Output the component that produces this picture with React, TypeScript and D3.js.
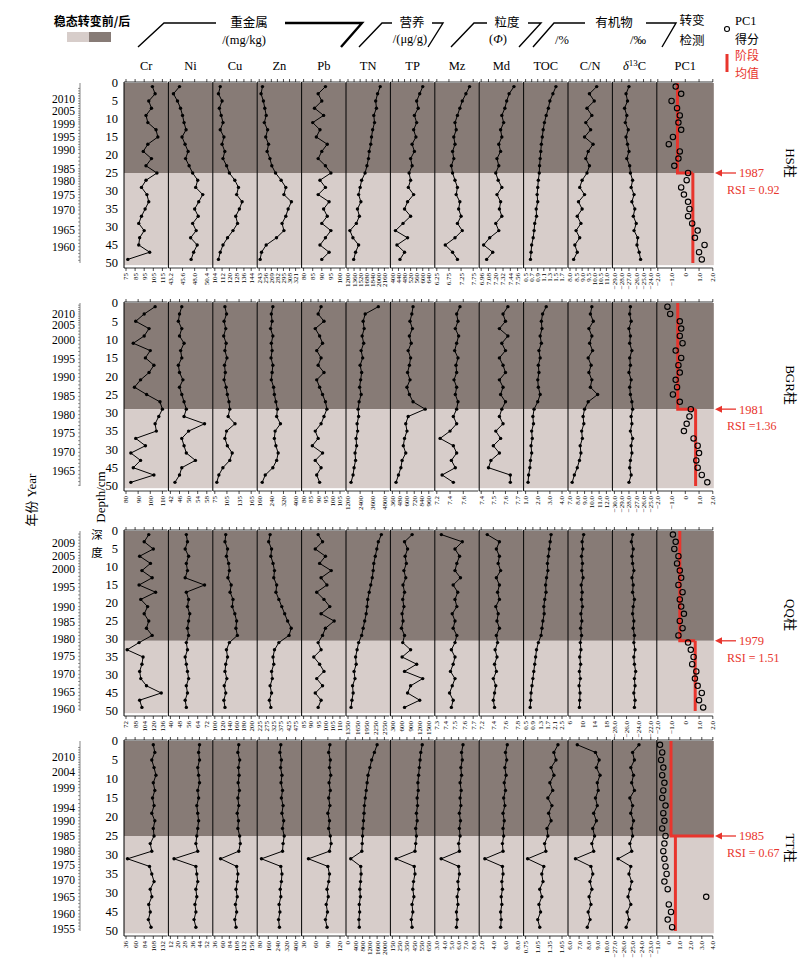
import React from 'react';
import * as d3 from 'd3';

const SERIF = '"Liberation Serif", "DejaVu Serif", serif';
const CJK = '"Noto Sans CJK SC", sans-serif';
const DARK = '#877b76';
const LIGHT = '#d7cdca';
const RED = '#e8352d';

const columns = ['Cr', 'Ni', 'Cu', 'Zn', 'Pb', 'TN', 'TP', 'Mz', 'Md', 'TOC', 'C/N', 'd13C', 'PC1'];
const depthTickAt = [0, 5, 10, 15, 20, 25, 30, 35, 40, 45, 50];
const depthTickText = ['0', '5', '10', '15', '20', '25', '30', '35', '30', '45', '50'];

// ---------- HS ----------
const hsDepth = [1, 3, 5, 7, 9, 11, 13, 15, 17, 19, 21, 23, 25, 27, 29, 31, 33, 35, 37, 39, 41, 43, 45, 47, 49];
const hsCr = [104, 107, 100, 103, 97, 99, 108, 110, 99, 94, 103, 97, 109, 97, 92, 98, 100, 96, 92, 89, 95, 90, 89, 101, 77];
const hsNi = [45.0, 43.8, 44.6, 45.2, 45.6, 45.9, 46.3, 45.5, 46.1, 46.7, 46.2, 46.9, 47.6, 48.6, 48.2, 49.6, 48.8, 48.0, 48.7, 47.6, 48.3, 47.2, 48.5, 47.8, 47.3];
const hsCu = [110, 108, 112, 109, 111, 113, 110, 114, 112, 115, 113, 117, 120, 126, 130, 128, 134, 131, 127, 129, 124, 118, 113, 110, 108];
const hsZn = [250, 247, 252, 255, 258, 254, 261, 257, 263, 260, 266, 270, 278, 290, 300, 296, 312, 305, 300, 292, 296, 280, 258, 248, 245];
const hsPb = [92, 88, 90, 86, 91, 85, 89, 87, 93, 90, 88, 92, 95, 89, 92, 88, 94, 91, 93, 90, 95, 92, 89, 94, 90];
const hsTN = [2050, 1980, 1930, 1950, 1880, 1900, 1850, 1820, 1800, 1760, 1740, 1700, 1650, 1560, 1520, 1480, 1540, 1450, 1500, 1420, 1250, 1330, 1480, 1400, 1350];
const hsTP = [600, 580, 560, 570, 545, 560, 540, 555, 530, 545, 520, 530, 510, 520, 505, 540, 500, 480, 520, 470, 420, 500, 430, 480, 450];
const hsMz = [7.6, 7.45, 7.3, 7.2, 7.1, 7.0, 7.05, 6.95, 7.0, 6.9, 6.95, 6.85, 6.9, 7.0, 7.1, 7.05, 7.2, 7.15, 7.25, 7.1, 7.3, 7.0, 6.6, 6.9, 7.1];
const hsMd = [7.5, 7.42, 7.38, 7.35, 7.3, 7.33, 7.28, 7.3, 7.25, 7.28, 7.22, 7.25, 7.2, 7.24, 7.3, 7.22, 7.28, 7.26, 7.3, 7.2, 7.25, 7.1, 7.0, 7.15, 7.05];
const hsTOC = [1.5, 1.4, 1.3, 1.25, 1.18, 1.12, 1.08, 1.05, 1.02, 1.0, 0.98, 0.96, 0.95, 0.92, 0.9, 0.88, 0.9, 0.85, 0.86, 0.8, 0.78, 0.75, 0.7, 0.68, 0.66];
const hsCN = [10.2, 9.6, 10.0, 9.4, 9.8, 9.3, 9.7, 9.2, 9.9, 9.5, 9.3, 9.6, 9.4, 9.0, 8.8, 9.2, 8.7, 9.0, 8.6, 8.9, 8.5, 8.8, 8.4, 8.6, 8.3];
const hsD13C = [-27.0, -27.4, -27.2, -27.6, -27.3, -27.5, -27.1, -27.4, -27.2, -27.0, -27.3, -26.9, -26.8, -26.5, -26.7, -26.3, -26.6, -26.2, -26.4, -26.0, -26.3, -25.8, -25.9, -25.6, -25.4];
const hsPC1 = [-0.7, -0.3, -1.0, -0.6, -0.4, -0.5, -0.3, -0.9, -1.2, -0.4, -0.5, -0.8, 0.2, 0.1, -0.3, -0.1, 0.2, 0.3, 0.2, 0.5, 0.9, 0.7, 1.4, 1.0, 1.2];
const hsStage = [-0.57, 0.55];
const hsTicks = [
  ['75', '85', '95', '105', '115'],
  ['43.2', '45.6', '48.0', '50.4'],
  ['104', '112', '120', '128', '136', '144'],
  ['243', '256', '269', '282', '295', '308', '321'],
  ['80', '85', '90', '95', '100'],
  ['1200', '1360', '1520', '1680', '1840', '2000', '2160'],
  ['400', '440', '480', '520', '560', '600', '640'],
  ['6.25', '6.75', '7.25', '7.75'],
  ['6.96', '7.08', '7.20', '7.32', '7.44', '7.56'],
  ['0.5', '0.7', '0.9', '1.1', '1.3', '1.5', '1.7'],
  ['8.0', '8.5', '9.0', '9.5', '10.0', '10.5', '11.0'],
  ['−29.0', '−28.0', '−27.0', '−26.0', '−25.0', '−24.0'],
  ['−2.0', '−1.0', '0', '1.0', '2.0'],
];
const hsYears = ['2010', '2005', '1999', '1995', '1990', '1985', '1980', '1975', '1970', '1965', '1960'];
const hsYearDepth = [4.3, 7.8, 11.4, 14.9, 18.5, 23.8, 27.3, 31, 35.3, 40.8, 45.5];

// ---------- BGR ----------
const bgrDepth = [1, 3, 5, 7, 9, 11, 13, 15, 17, 19, 21, 23, 25, 27, 29, 31, 33, 35, 37, 39, 41, 43, 45, 47, 49];
const bgrCr = [104, 95, 88, 99, 95, 86, 100, 96, 103, 99, 92, 87, 97, 108, 110, 107, 104, 105, 88, 96, 84, 92, 86, 103, 84];
const bgrNi = [47, 46, 45.5, 47, 46, 48, 46.5, 47, 45.5, 46, 47.5, 46, 47, 48, 49, 48, 57, 50, 47, 48, 49, 53, 47, 46, 44];
const bgrCu = [100, 104, 98, 102, 97, 103, 100, 105, 99, 101, 98, 103, 106, 110, 112, 108, 125, 104, 100, 106, 118, 112, 95, 85, 80];
const bgrZn = [250, 240, 245, 235, 250, 240, 245, 238, 250, 245, 240, 255, 260, 270, 280, 275, 300, 265, 260, 270, 285, 275, 250, 200, 180];
const bgrPb = [92, 90, 94, 88, 91, 93, 89, 92, 90, 94, 89, 91, 93, 95, 96, 94, 92, 88, 90, 86, 93, 88, 92, 89, 91];
const bgrTN = [4200, 2900, 2700, 2800, 2600, 2750, 2500, 2650, 2400, 2550, 2450, 2350, 2500, 2300, 2200, 2250, 2100, 2150, 2000, 2050, 1900, 1950, 1800, 1700, 1500];
const bgrTP = [700, 680, 650, 690, 640, 670, 620, 660, 640, 610, 650, 600, 640, 700, 900, 620, 580, 600, 560, 540, 580, 520, 500, 460, 420];
const bgrMz = [7.55, 7.5, 7.52, 7.48, 7.53, 7.5, 7.47, 7.52, 7.49, 7.5, 7.46, 7.5, 7.48, 7.52, 7.5, 7.45, 7.5, 7.4, 7.25, 7.45, 7.5, 7.42, 7.48, 7.28, 7.45];
const bgrMd = [7.62, 7.58, 7.6, 7.55, 7.62, 7.57, 7.6, 7.55, 7.58, 7.6, 7.55, 7.58, 7.56, 7.6, 7.57, 7.55, 7.58, 7.52, 7.56, 7.5, 7.55, 7.48, 7.46, 7.64, 7.64];
const bgrTOC = [2.7, 2.4, 2.3, 2.35, 2.2, 2.3, 2.1, 2.2, 2.05, 2.1, 2.0, 2.05, 2.2, 2.0, 1.7, 1.6, 1.65, 1.5, 1.55, 1.45, 1.5, 1.4, 1.35, 1.25, 1.2];
const bgrCN = [10.0, 9.8, 10.2, 9.6, 10.0, 9.7, 10.1, 9.5, 9.9, 9.6, 10.0, 9.8, 10.8, 9.5, 9.0, 8.8, 8.9, 8.6, 8.7, 8.4, 8.5, 8.3, 8.0, 7.6, 7.3];
const bgrD13C = [-27.8, -27.9, -27.7, -28.0, -27.8, -27.9, -27.6, -27.9, -27.8, -28.0, -27.7, -27.9, -27.8, -27.6, -27.5, -27.7, -27.6, -27.8, -27.5, -27.7, -27.6, -27.8, -27.9, -27.7, -28.0];
const bgrPC1 = [-1.3, -1.1, -0.4, -0.3, -0.4, -0.2, -0.7, -0.3, -0.5, -0.4, -0.7, -0.6, -0.9, -0.4, 0.4, 0.3, 0.1, -0.1, 0.6, 0.9, 1.0, 0.8, 0.9, 1.2, 1.6];
const bgrStage = [-0.55, 0.75];
const bgrTicks = [
  ['80', '90', '100', '110'],
  ['42', '46', '50', '54', '58'],
  ['75', '105', '135', '165'],
  ['160', '240', '320', '400'],
  ['80', '85', '90', '95', '100', '105'],
  ['1200', '2400', '3600', '4800'],
  ['360', '480', '600', '720', '840', '960'],
  ['7.2', '7.4', '7.6'],
  ['7.4', '7.5', '7.6', '7.7'],
  ['1.0', '2.0', '3.0', '4.0'],
  ['7.0', '8.0', '9.0', '10.0', '11.0', '12.0'],
  ['−30.0', '−29.0', '−28.0', '−27.0', '−26.0', '−25.0'],
  ['−2.0', '−1.0', '0', '1.0', '2.0'],
];
const bgrYears = ['2010', '2005', '2000', '1995', '1990', '1985', '1980', '1975', '1970', '1965'];
const bgrYearDepth = [3.0, 6.0, 10.2, 15.3, 20.3, 25.5, 30.5, 35.5, 40.8, 45.8];

// ---------- QQ ----------
const qqDepth = [1, 3, 5, 7, 9, 11, 13, 15, 17, 19, 21, 23, 25, 27, 29, 31, 33, 35, 37, 39, 41, 43, 45, 47, 49];
const qqCr = [112, 104, 120, 96, 115, 100, 118, 95, 124, 98, 110, 104, 112, 108, 118, 95, 74, 102, 100, 96, 98, 108, 134, 96, 100];
const qqNi = [54, 55, 53, 56, 54, 55, 53, 70, 54, 56, 55, 57, 56, 55, 56, 54, 55, 53, 54, 55, 56, 54, 55, 53, 54];
const qqCu = [130, 128, 135, 132, 138, 140, 136, 145, 142, 150, 148, 155, 160, 158, 162, 140, 132, 135, 130, 128, 133, 126, 130, 125, 128];
const qqZn = [300, 290, 310, 305, 320, 330, 325, 345, 340, 360, 380, 400, 420, 445, 430, 360, 330, 320, 325, 310, 315, 300, 310, 295, 305];
const qqPb = [95, 98, 93, 100, 96, 104, 97, 101, 94, 99, 103, 97, 106, 100, 98, 95, 97, 92, 96, 99, 94, 98, 93, 97, 95];
const qqTN = [2450, 2350, 2300, 2250, 2200, 2180, 2150, 2100, 2050, 2000, 1980, 1950, 1900, 1850, 1800, 1700, 1650, 1600, 1620, 1550, 1580, 1500, 1520, 1480, 1450];
const qqTP = [950, 700, 800, 720, 760, 680, 740, 650, 700, 640, 680, 620, 650, 600, 700, 640, 900, 620, 1100, 700, 1300, 900, 800, 1200, 700];
const qqMz = [7.35, 7.58, 7.5, 7.55, 7.52, 7.5, 7.56, 7.48, 7.53, 7.5, 7.52, 7.47, 7.5, 7.48, 7.52, 7.5, 7.46, 7.5, 7.48, 7.45, 7.5, 7.47, 7.44, 7.48, 7.46];
const qqMd = [7.3, 7.5, 7.45, 7.5, 7.48, 7.52, 7.45, 7.5, 7.47, 7.5, 7.44, 7.48, 7.46, 7.5, 7.45, 7.47, 7.43, 7.46, 7.42, 7.45, 7.4, 7.44, 7.42, 7.4, 7.42];
const qqTOC = [1.9, 1.85, 1.8, 1.75, 1.7, 1.72, 1.65, 1.6, 1.62, 1.55, 1.5, 1.52, 1.45, 1.4, 1.35, 1.2, 1.1, 1.05, 1.0, 0.95, 0.9, 0.85, 0.8, 0.78, 0.75];
const qqCN = [10.5, 10.0, 10.2, 9.8, 10.1, 9.9, 10.3, 9.7, 10.0, 9.8, 10.1, 9.6, 9.9, 9.5, 9.8, 9.4, 9.6, 9.2, 9.5, 9.1, 9.4, 9.0, 9.3, 9.2, 9.1];
const qqD13C = [-25.0, -25.2, -24.9, -25.1, -25.0, -24.8, -25.1, -24.9, -25.0, -24.7, -24.9, -25.0, -24.8, -24.9, -24.7, -24.8, -24.6, -24.8, -24.7, -24.5, -24.7, -24.6, -24.8, -24.6, -24.7];
const qqPC1 = [-0.9, -0.7, -0.8, -0.5, -0.6, -0.4, -0.3, -0.5, -0.2, -0.4, -0.3, -0.1, -0.4, -0.2, -0.5, 0.2, 0.4, 0.6, 0.5, 0.8, 0.7, 0.9, 1.2, 1.0, 1.3];
const qqStage = [-0.4, 0.72];
const qqTicks = [
  ['72', '88', '104', '120', '136'],
  ['40', '48', '56', '64', '72'],
  ['100', '120', '140', '160', '180', '200'],
  ['225', '275', '325', '375', '425', '475'],
  ['85', '90', '95', '100', '105', '110'],
  ['1350', '1650', '1950', '2250', '2550'],
  ['300', '600', '900', '1200', '1500'],
  ['7.3', '7.4', '7.5', '7.6', '7.7'],
  ['7.2', '7.4', '7.6', '7.8'],
  ['0.5', '0.9', '1.3', '1.7', '2.1', '2.5'],
  ['6', '10', '14', '18'],
  ['−28.0', '−26.0', '−24.0', '−22.0'],
  ['−2.0', '−1.0', '0', '1.0', '2.0'],
];
const qqYears = ['2009', '2005', '2000', '1995', '1990', '1985', '1980', '1975', '1970', '1965', '1960'];
const qqYearDepth = [3.4, 6.8, 10.6, 15.6, 21, 25.3, 30, 34.8, 39.8, 44.8, 49.5];

// ---------- TT ----------
const ttDepth = [1, 3, 5, 7, 9, 11, 13, 15, 17, 19, 21, 23, 25, 27, 29, 31, 33, 35, 37, 39, 41, 43, 45, 47, 49];
const ttCr = [108, 112, 104, 110, 115, 108, 112, 106, 110, 104, 112, 108, 110, 100, 104, 40, 98, 104, 110, 100, 104, 96, 100, 95, 102];
const ttNi = [44, 43, 44, 42, 43, 44, 42, 43, 41, 42, 43, 42, 41, 40, 42, 16, 40, 41, 42, 40, 41, 39, 40, 38, 40];
const ttCu = [115, 112, 118, 114, 116, 113, 117, 112, 115, 110, 114, 112, 118, 120, 115, 55, 108, 112, 110, 106, 110, 104, 108, 102, 106];
const ttZn = [270, 262, 275, 268, 280, 272, 285, 275, 290, 280, 295, 285, 300, 290, 285, 100, 270, 280, 275, 265, 270, 255, 262, 250, 258];
const ttPb = [95, 92, 96, 94, 97, 93, 96, 92, 95, 90, 94, 92, 96, 98, 94, 42, 90, 94, 92, 88, 91, 86, 89, 84, 88];
const ttTN = [1600, 1450, 1300, 1200, 1100, 1050, 1000, 950, 900, 880, 850, 820, 800, 780, 760, 150, 700, 720, 690, 650, 680, 620, 640, 600, 620];
const ttTP = [560, 540, 530, 520, 510, 500, 505, 490, 495, 480, 490, 470, 480, 470, 460, 200, 450, 460, 440, 430, 445, 420, 430, 410, 420];
const ttMz = [6.6, 6.4, 6.5, 6.3, 6.4, 6.2, 6.35, 6.2, 6.3, 6.1, 6.25, 6.1, 6.2, 6.0, 6.1, 3.6, 6.0, 6.1, 5.9, 6.0, 5.8, 5.9, 5.7, 5.8, 5.7];
const ttMd = [6.3, 6.0, 6.2, 5.9, 6.1, 5.8, 6.0, 5.7, 5.9, 5.6, 5.8, 5.6, 5.7, 5.5, 5.6, 2.6, 5.5, 5.6, 5.4, 5.5, 5.3, 5.4, 5.2, 5.3, 5.2];
const ttTOC = [1.55, 1.45, 1.5, 1.38, 1.45, 1.35, 1.42, 1.3, 1.4, 1.32, 1.38, 1.28, 1.3, 1.22, 1.25, 0.8, 1.2, 1.15, 1.18, 1.1, 1.15, 1.08, 1.12, 1.05, 1.1];
const ttCN = [6.8, 8.8, 9.2, 8.9, 9.3, 9.0, 9.1, 8.8, 9.0, 8.6, 8.9, 8.5, 8.7, 8.4, 8.6, 6.6, 8.3, 8.5, 8.2, 8.4, 8.1, 8.3, 8.0, 8.2, 7.9];
const ttD13C = [-24.3, -25.0, -24.8, -25.2, -24.9, -25.1, -24.8, -25.3, -25.0, -25.2, -24.9, -25.1, -25.0, -25.3, -25.1, -26.6, -25.2, -25.4, -25.1, -25.3, -25.5, -25.2, -25.6, -25.4, -25.7];
const ttPC1 = [-0.8, -0.6, -0.7, -0.5, -0.6, -0.4, -0.5, -0.6, -0.3, -0.5, -0.4, -0.6, -0.3, -0.4, -0.5, -0.4, -0.3, -0.2, -0.4, -0.1, 3.4, 0.0, 0.2, -0.1, 0.3];
const ttStage = [0.2, 0.6];
const ttTicks = [
  ['36', '60', '84', '108', '132'],
  ['12', '20', '28', '36', '44', '52'],
  ['36', '60', '84', '108', '132', '156'],
  ['80', '160', '240', '320', '400'],
  ['30', '60', '90', '120'],
  ['0', '400', '800', '1200', '1600', '2000'],
  ['150', '250', '350', '450', '550', '650'],
  ['3.0', '4.0', '5.0', '6.0', '7.0', '8.0'],
  ['2.0', '4.0', '6.0', '8.0'],
  ['0.75', '1.05', '1.35', '1.65'],
  ['6.0', '7.0', '8.0', '9.0', '10.0'],
  ['−27.0', '−26.0', '−25.0', '−24.0', '−23.0'],
  ['−1.0', '0', '1.0', '2.0', '3.0', '4.0'],
];
const ttYears = ['2010', '2004', '1999', '1994', '1990', '1985', '1980', '1975', '1970', '1965', '1960', '1955'];
const ttYearDepth = [4.3, 8.2, 12.3, 17.5, 21, 25, 29, 32.5, 36.5, 41, 45.5, 49.5];

const cores = [
  {
    name: 'HS', top: 83, bottom: 263, shift: 25, year: '1987', rsi: 'RSI = 0.92', labelY: 163, redToEdge: false,
    depth: hsDepth, series: [hsCr, hsNi, hsCu, hsZn, hsPb, hsTN, hsTP, hsMz, hsMd, hsTOC, hsCN, hsD13C, hsPC1],
    stage: hsStage, ticks: hsTicks, years: hsYears, yearDepth: hsYearDepth, domains: {} as Record<number, number[]>,
  },
  {
    name: 'BGR', top: 303, bottom: 486, shift: 29, year: '1981', rsi: 'RSI =1.36', labelY: 385, redToEdge: false,
    depth: bgrDepth, series: [bgrCr, bgrNi, bgrCu, bgrZn, bgrPb, bgrTN, bgrTP, bgrMz, bgrMd, bgrTOC, bgrCN, bgrD13C, bgrPC1],
    stage: bgrStage, ticks: bgrTicks, years: bgrYears, yearDepth: bgrYearDepth, domains: { 7: [7.2, 7.75] } as Record<number, number[]>,
  },
  {
    name: 'QQ', top: 531, bottom: 711, shift: 30.5, year: '1979', rsi: 'RSI = 1.51', labelY: 615, redToEdge: false,
    depth: qqDepth, series: [qqCr, qqNi, qqCu, qqZn, qqPb, qqTN, qqTP, qqMz, qqMd, qqTOC, qqCN, qqD13C, qqPC1],
    stage: qqStage, ticks: qqTicks, years: qqYears, yearDepth: qqYearDepth, domains: {} as Record<number, number[]>,
  },
  {
    name: 'TT', top: 741, bottom: 931, shift: 25, year: '1985', rsi: 'RSI = 0.67', labelY: 848, redToEdge: true,
    depth: ttDepth, series: [ttCr, ttNi, ttCu, ttZn, ttPb, ttTN, ttTP, ttMz, ttMd, ttTOC, ttCN, ttD13C, ttPC1],
    stage: ttStage, ticks: ttTicks, years: ttYears, yearDepth: ttYearDepth, domains: {} as Record<number, number[]>,
  },
];

const PX0 = 124;
const PW = 44.4;
const LAST_W = 57;
const panelX = (i: number) => PX0 + i * PW;
const panelW = (i: number) => (i === 12 ? LAST_W : PW);
const num = (s: string) => +s.replace('−', '-');

function xScaleFor(core, i) {
  const x = panelX(i);
  const w = panelW(i);
  const t = core.ticks[i].map(num);
  const dom = core.domains[i] || [t[0], t[t.length - 1]];
  const range = i === 12 ? [x + 1, x + w - 1] : [x + 2, x + w - 6];
  return d3.scaleLinear().domain(dom).range(range);
}

function Core({ core }) {
  const y = d3.scaleLinear().domain([0, 50]).range([core.top, core.bottom]);
  const axisY = core.bottom + 5;
  const yearScale = d3.scaleLinear().domain(core.years.map(Number)).range(core.yearDepth);
  const y0 = +core.years[0];
  const yN = +core.years[core.years.length - 1];
  const minor = d3.range(yN - 4, y0 + 5).map((yr) => yearScale(yr)).filter((d) => d >= 0.3 && d <= 50);

  const xp = xScaleFor(core, 12);
  const yS = y(core.shift);
  const [upMean, loMean] = core.stage;
  const stepPath = `M${xp(upMean)},${y(0)}V${yS}H${core.redToEdge ? panelX(12) + LAST_W : xp(loMean)}`;
  const lowerPath = `M${xp(loMean)},${yS}V${y(50)}`;

  return (
    <g>
      {/* year axis */}
      <line x1={80} x2={80} y1={y(0)} y2={y(50)} stroke="#333" strokeWidth={0.6} />
      {minor.map((d, k) => (
        <line key={k} x1={78} x2={80} y1={y(d)} y2={y(d)} stroke="#333" strokeWidth={0.5} />
      ))}
      {core.years.map((yr, k) => (
        <text key={yr} x={75} y={y(core.yearDepth[k])} dy="0.35em" textAnchor="end" fontFamily={SERIF} fontSize={11.5}>
          {yr}
        </text>
      ))}
      {/* depth labels */}
      {depthTickAt.map((d, k) => (
        <text key={k} x={118} y={y(d)} dy="0.35em" textAnchor="end" fontFamily={SERIF} fontSize={12.5}>
          {depthTickText[k]}
        </text>
      ))}
      {columns.map((c, i) => {
        const x = panelX(i);
        const w = panelW(i);
        const xs = xScaleFor(core, i);
        const vals = core.series[i];
        const tickVals = core.ticks[i];
        const line = d3
          .line<number>()
          .x((v) => xs(v))
          .y((_, k) => y(core.depth[k]));
        return (
          <g key={c}>
            <rect x={x} y={y(0)} width={w} height={yS - y(0)} fill={DARK} />
            <rect x={x} y={yS} width={w} height={y(50.6) - yS} fill={LIGHT} />
            <line x1={x} x2={x} y1={y(0) - 1} y2={axisY} stroke="#000" strokeWidth={1} />
            <line x1={x} x2={x + w - 1} y1={y(0) - 1} y2={y(0) - 1} stroke="#000" strokeWidth={0.8} />
            <line x1={x} x2={x + w - 1} y1={axisY} y2={axisY} stroke="#000" strokeWidth={0.8} />
            {tickVals.map((t) => (
              <g key={t}>
                <line x1={xs(num(t))} x2={xs(num(t))} y1={y(0) - 1} y2={y(0) - 4} stroke="#000" strokeWidth={0.7} />
                <line x1={xs(num(t))} x2={xs(num(t))} y1={axisY} y2={axisY + 3} stroke="#000" strokeWidth={0.7} />
                <text
                  transform={`translate(${xs(num(t))},${axisY + 5}) rotate(-90)`}
                  textAnchor="end"
                  dy="0.35em"
                  fontFamily={SERIF}
                  fontSize={7}
                >
                  {t}
                </text>
              </g>
            ))}
            {i < 12 ? (
              <g>
                <path d={line(vals) || ''} fill="none" stroke="#000" strokeWidth={1} />
                {vals.map((v, k) => (
                  <circle key={k} cx={xs(v)} cy={y(core.depth[k])} r={1.7} fill="#000" />
                ))}
              </g>
            ) : (
              <g>
                <path d={stepPath} fill="none" stroke={RED} strokeWidth={3} />
                <path d={lowerPath} fill="none" stroke={RED} strokeWidth={3} />
                {vals.map((v, k) => (
                  <circle key={k} cx={xs(v)} cy={y(core.depth[k])} r={2.7} fill="none" stroke="#000" strokeWidth={1.1} />
                ))}
              </g>
            )}
          </g>
        );
      })}
      {/* transition annotation */}
      <line x1={736} x2={721} y1={yS} y2={yS} stroke={RED} strokeWidth={1.3} />
      <path d={`M715,${yS}L722,${yS - 3.5}L722,${yS + 3.5}Z`} fill={RED} />
      <text x={739} y={yS} dy="0.35em" fill={RED} fontFamily={SERIF} fontSize={12.5}>
        {core.year}
      </text>
      <text x={727} y={yS + 17} dy="0.35em" fill={RED} fontFamily={SERIF} fontSize={12}>
        {core.rsi}
      </text>
      <text
        transform={`translate(791,${core.labelY}) rotate(90)`}
        textAnchor="middle"
        dy="0.35em"
        fontFamily={SERIF}
        fontSize={13}
      >
        {core.name}
        <tspan fontFamily={CJK}>柱</tspan>
      </text>
    </g>
  );
}

function Header() {
  const yT = 23;
  const yB = 47;
  const cx = (i: number) => panelX(i) + panelW(i) / 2;
  return (
    <g>
      <text x={92} y={22} dy="0.35em" textAnchor="middle" fontFamily={CJK} fontSize={12} fontWeight={700}>
        稳态转变前/后
      </text>
      <rect x={67} y={32} width={22} height={10} fill={LIGHT} />
      <rect x={89} y={32} width={22} height={10} fill={DARK} />
      <g fill="none" stroke="#000" strokeWidth={1.4}>
        <polyline points={`138,${yB} 164,${yT} 216,${yT}`} />
        <polyline points={`285,${yT} 362,${yT} 341,${yB}`} strokeWidth={2.4} />
        <polyline points={`359,${yB} 382,${yT} 392,${yT}`} />
        <polyline points={`432,${yT} 443,${yT} 428,${yB}`} />
        <polyline points={`451,${yB} 474,${yT} 487,${yT}`} />
        <polyline points={`528,${yT} 541,${yT} 519,${yB}`} />
        <polyline points={`533,${yB} 554,${yT} 585,${yT}`} />
        <polyline points={`646,${yT} 676,${yT} 662,${yB}`} />
      </g>
      <g fontFamily={CJK} fontSize={12.5} textAnchor="middle">
        <text x={249} y={yT} dy="0.35em">重金属</text>
        <text x={412} y={yT} dy="0.35em">营养</text>
        <text x={507} y={yT} dy="0.35em">粒度</text>
        <text x={614} y={yT} dy="0.35em">有机物</text>
        <text x={692} y={21} dy="0.35em">转变</text>
        <text x={692} y={41} dy="0.35em">检测</text>
      </g>
      <g fontFamily={SERIF} fontSize={12.5} textAnchor="middle">
        <text x={244} y={40} dy="0.35em">/(mg/kg)</text>
        <text x={410} y={39} dy="0.35em">/(μg/g)</text>
        <text x={498} y={39} dy="0.35em">(<tspan fontStyle="italic">Φ</tspan>)</text>
        <text x={562} y={40} dy="0.35em">/%</text>
        <text x={638} y={40} dy="0.35em">/‰</text>
      </g>
      {columns.map((c, i) => (
        <text key={c} x={cx(i)} y={66} dy="0.35em" textAnchor="middle" fontFamily={SERIF} fontSize={12.5}>
          {c === 'd13C' ? (
            <>
              <tspan fontStyle="italic">δ</tspan>
              <tspan dy={-4} fontSize={9}>13</tspan>
              <tspan dy={4}>C</tspan>
            </>
          ) : (
            c
          )}
        </text>
      ))}
      <circle cx={727} cy={29} r={2.5} fill="none" stroke="#000" strokeWidth={1.1} />
      <text x={735} y={21} dy="0.35em" fontFamily={SERIF} fontSize={12.5}>PC1</text>
      <text x={735} y={40} dy="0.35em" fontFamily={CJK} fontSize={12}>得分</text>
      <line x1={727} x2={727} y1={54} y2={72} stroke={RED} strokeWidth={3} />
      <text x={735} y={56} dy="0.35em" fontFamily={CJK} fontSize={12} fill={RED}>阶段</text>
      <text x={735} y={74} dy="0.35em" fontFamily={CJK} fontSize={12} fill={RED}>均值</text>
    </g>
  );
}

export default function App() {
  return (
    <svg
      width={800}
      height={974}
      viewBox="0 0 800 974"
      style={{ position: 'absolute', left: 0, top: 0, background: '#fff' }}
    >
      <Header />
      {cores.map((c) => (
        <Core key={c.name} core={c} />
      ))}
      <text transform="translate(100,497) rotate(-90)" textAnchor="middle" dy="0.35em" fontFamily={SERIF} fontSize={13}>
        Depth/cm
      </text>
      <text transform="translate(31,500) rotate(-90)" textAnchor="middle" dy="0.35em" fontSize={13}>
        <tspan fontFamily={CJK}>年份 </tspan>
        <tspan fontFamily={SERIF}>Year</tspan>
      </text>
      <text x={97} y={535} dy="0.35em" textAnchor="middle" fontFamily={CJK} fontSize={11.5}>深</text>
      <text x={97} y={553} dy="0.35em" textAnchor="middle" fontFamily={CJK} fontSize={11.5}>度</text>
    </svg>
  );
}
